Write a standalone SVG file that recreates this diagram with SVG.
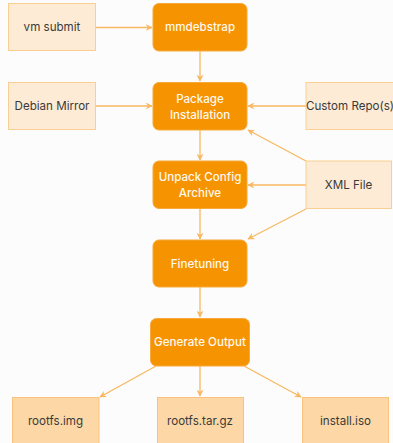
<svg xmlns="http://www.w3.org/2000/svg" width="393" height="443" viewBox="0 0 393 443">
<style>
.bg{fill:#fcfcfc}
.proc rect{fill:#f59300;stroke:#f7a93a;stroke-width:1}
.proc text{fill:#fff8ee;font-weight:500}
.inp rect{fill:#fdebd5;stroke:#f9cf94;stroke-width:1}
.out rect{fill:#fdd8a6;stroke:#f9c37c;stroke-width:1}
text{font-family:"Inter","Liberation Sans",sans-serif;font-size:11.6px;text-anchor:middle;dominant-baseline:central;fill:#3a3a3a}
.edges path{fill:none;stroke:#f8b862;stroke-width:1.3}
</style>
<defs>
<marker id="ah" viewBox="0 0 10 10" refX="9" refY="5" markerWidth="7" markerHeight="7" orient="auto" markerUnits="userSpaceOnUse">
<path d="M0,0 L10,5 L0,10 L3,5 Z" fill="#f8b862"/>
</marker>
</defs>
<rect class="bg" x="0" y="0" width="393" height="443"/>
<g class="edges">
<path d="M95,27.5 H152" marker-end="url(#ah)"/>
<path d="M200,51 V81" marker-end="url(#ah)"/>
<path d="M95,106 H152" marker-end="url(#ah)"/>
<path d="M306,106 H248" marker-end="url(#ah)"/>
<path d="M306,161 L248,130" marker-end="url(#ah)"/>
<path d="M200,130 V160" marker-end="url(#ah)"/>
<path d="M306,185 H248" marker-end="url(#ah)"/>
<path d="M306,209 L248,239" marker-end="url(#ah)"/>
<path d="M200,209 V239" marker-end="url(#ah)"/>
<path d="M200,287 V317" marker-end="url(#ah)"/>
<path d="M156,366 L100,397" marker-end="url(#ah)"/>
<path d="M200,366 V396" marker-end="url(#ah)"/>
<path d="M244,366 L301,397" marker-end="url(#ah)"/>
</g>
<g id="vm-submit" class="inp"><rect x="8.5" y="3.5" width="87" height="47"/><text x="52" y="27">vm submit</text></g>
<g id="mmdebstrap" class="proc"><rect x="153" y="3.5" width="94" height="47.5" rx="6"/><text x="200" y="27">mmdebstrap</text></g>
<g id="debian-mirror" class="inp"><rect x="8.5" y="82.5" width="87" height="47"/><text x="52" y="106">Debian Mirror</text></g>
<g id="package-installation" class="proc"><rect x="153" y="82.5" width="94" height="47.5" rx="6"/><text x="200" y="98.5">Package</text><text x="200" y="114.5">Installation</text></g>
<g id="custom-repos" class="inp"><rect x="306" y="82.5" width="92" height="47"/><text x="350" y="106">Custom Repo(s)</text></g>
<g id="unpack-config" class="proc"><rect x="153" y="161" width="94" height="47.5" rx="6"/><text x="200" y="177">Unpack Config</text><text x="200" y="193">Archive</text></g>
<g id="xml-file" class="inp"><rect x="306" y="161" width="85.5" height="47.5"/><text x="348.5" y="185">XML File</text></g>
<g id="finetuning" class="proc"><rect x="153" y="240" width="94" height="47" rx="6"/><text x="200" y="263.5">Finetuning</text></g>
<g id="generate-output" class="proc"><rect x="150.5" y="318.5" width="99" height="47.5" rx="6"/><text x="200" y="342">Generate Output</text></g>
<g id="rootfs-img" class="out"><rect x="12.5" y="397.5" width="86.5" height="48"/><text x="55.5" y="420.5">rootfs.img</text></g>
<g id="rootfs-tar-gz" class="out"><rect x="157.5" y="397.5" width="86" height="48"/><text x="200" y="420.5">rootfs.tar.gz</text></g>
<g id="install-iso" class="out"><rect x="302.5" y="397.5" width="86" height="48"/><text x="345.5" y="420.5">install.iso</text></g>
</svg>
